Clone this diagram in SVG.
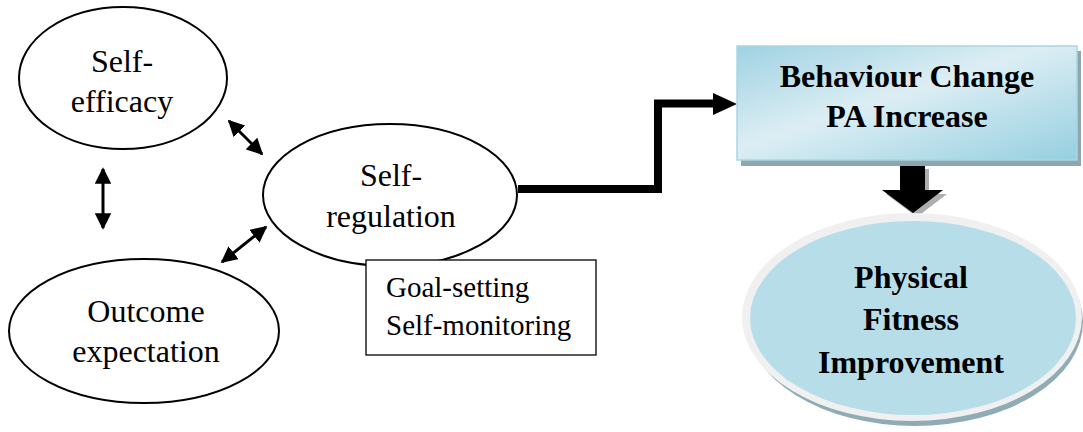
<svg xmlns="http://www.w3.org/2000/svg" width="1083" height="432" viewBox="0 0 1083 432">
<style>
.oval{fill:#fff;stroke:#000;stroke-width:2}
.t{font-family:"Liberation Serif","Times New Roman",serif;font-size:32px;fill:#000;text-anchor:middle}
.tb{font-family:"Liberation Serif","Times New Roman",serif;font-size:32px;font-weight:bold;fill:#000;text-anchor:middle}
.ts{font-family:"Liberation Serif","Times New Roman",serif;font-size:29px;fill:#000}
.dbl{stroke:#000;stroke-width:3;fill:none;marker-start:url(#ah);marker-end:url(#ah)}
</style>
<defs>
<marker id="ah" viewBox="0 0 10 10" refX="9" refY="5" markerWidth="5.5" markerHeight="5.5" orient="auto-start-reverse" markerUnits="strokeWidth">
<path d="M0,0 L10,5 L0,10 z" fill="#000"/>
</marker>
<linearGradient id="boxg" x1="0" y1="0" x2="1" y2="1">
<stop offset="0" stop-color="#9fd2e2"/>
<stop offset="0.45" stop-color="#dceef4"/>
<stop offset="1" stop-color="#96cfe0"/>
</linearGradient>
</defs>
<g id="connectors">
<line class="dbl" x1="229" y1="121" x2="262" y2="154"/>
<line class="dbl" x1="266" y1="227" x2="222" y2="262"/>
<line class="dbl" x1="103" y1="169" x2="103" y2="228"/>
<polyline points="518,189 658,189 658,103.5 716,103.5" fill="none" stroke="#000" stroke-width="8"/>
<polygon points="713,93 737,104 713,115" fill="#000"/>
<polygon points="904,169 929,169 929,194 947,194 917,217 886,194 904,194" fill="#999" opacity="0.8"/>
<polygon points="900,165 925,165 925,190 943,190 913,213 882,190 900,190" fill="#000"/>
</g>
<g id="self-efficacy">
<ellipse class="oval" cx="123" cy="78" rx="104" ry="71"/>
<text class="t" x="122" y="72">Self-</text>
<text class="t" x="122" y="112">efficacy</text>
</g>
<g id="outcome-expectation">
<ellipse class="oval" cx="144" cy="331" rx="135" ry="72"/>
<text class="t" x="146" y="322">Outcome</text>
<text class="t" x="146" y="362">expectation</text>
</g>
<g id="self-regulation">
<ellipse class="oval" cx="390" cy="195" rx="127" ry="71"/>
<text class="t" x="391" y="186">Self-</text>
<text class="t" x="391" y="227">regulation</text>
</g>
<g id="strategies">
<rect x="366" y="260" width="230" height="95" fill="#fff" stroke="#000" stroke-width="1.3"/>
<text class="ts" x="386" y="297">Goal-setting</text>
<text class="ts" x="386" y="335">Self-monitoring</text>
</g>
<g id="behaviour-change">
<rect x="741" y="51" width="340" height="115" fill="#8fa6ae"/>
<rect x="737" y="46" width="340" height="114" fill="url(#boxg)" stroke="#a8d6e4" stroke-width="1.5"/>
<text class="tb" x="907" y="87">Behaviour Change</text>
<text class="tb" x="907" y="127">PA Increase</text>
</g>
<g id="physical-fitness">
<ellipse cx="915" cy="322" rx="168" ry="104" fill="#8fabb5"/>
<ellipse cx="912" cy="317" rx="170" ry="104" fill="#f0f0f0"/>
<ellipse cx="913" cy="318" rx="163" ry="97" fill="#b7dde8"/>
<text class="tb" x="911" y="288">Physical</text>
<text class="tb" x="911" y="330">Fitness</text>
<text class="tb" x="911" y="373">Improvement</text>
</g>
</svg>
